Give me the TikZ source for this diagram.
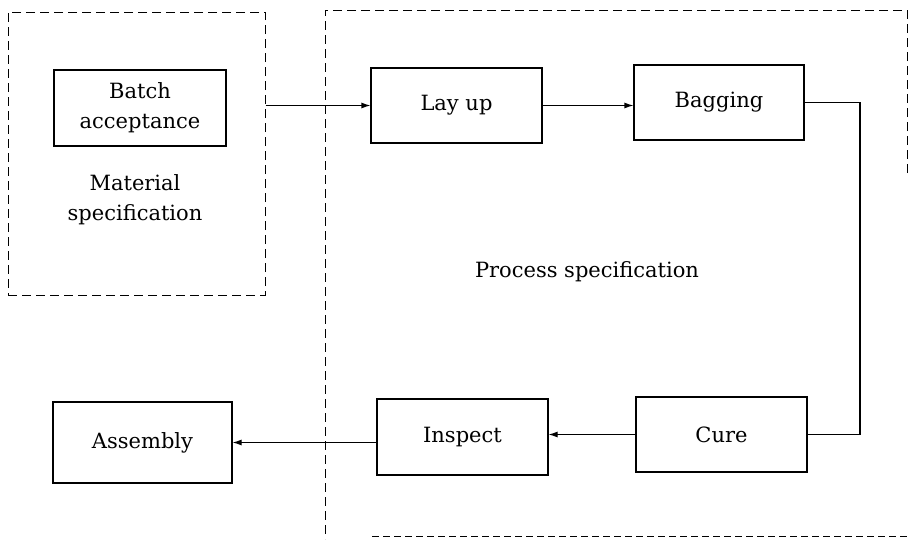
\documentclass[tikz,border=0pt]{standalone}
\usepackage{fontspec}
\setmainfont{DejaVu Serif}
\usetikzlibrary{arrows.meta}
\begin{document}
\begin{tikzpicture}[x=1pt,y=-1pt,
  stepbox/.style={draw,line width=1.1pt,inner sep=0pt,align=center,
    font=\fontsize{21}{30}\selectfont},
  lbl/.style={align=center,font=\fontsize{21}{30}\selectfont},
  region/.style={draw,line width=1pt,dash pattern=on 9pt off 5pt},
  flow/.style={line width=1.1pt,-{Latex[length=9pt,width=6pt]}},
  link/.style={line width=1.1pt}]
\useasboundingbox (0,0) rectangle (908,539);
% material specification region
\node[region,minimum width=257pt,minimum height=283pt] (matbox) at (136.5,153.5) {};
\node[lbl] (matlbl) at (135,200) {Material\\specification};
% process specification region (open outline)
\coordinate (pA) at (907,173);
\coordinate (pB) at (907,10);
\coordinate (pC) at (325,10);
\coordinate (pD) at (325,539);
\coordinate (pE) at (372,536);
\coordinate (pF) at (908,536);
\draw[region] (pA) -- (pB) -- (pC) -- (pD);
\draw[region,dash pattern=on 7pt off 4pt] (pE) -- (pF);
\node[lbl] (proclbl) at (587,272) {Process specification};
% steps
\node[stepbox,minimum width=172pt,minimum height=76pt] (batch) at (140,108) {Batch\\acceptance};
\node[stepbox,minimum width=171pt,minimum height=75pt] (layup) at (456.5,105.5) {Lay up};
\node[stepbox,minimum width=170pt,minimum height=75pt] (bagging) at (719,102.5) {Bagging};
\node[stepbox,minimum width=171pt,minimum height=75pt] (cure) at (721.5,434.5) {Cure};
\node[stepbox,minimum width=171pt,minimum height=76pt] (inspect) at (462.5,437) {Inspect};
\node[stepbox,minimum width=179pt,minimum height=81pt] (assembly) at (142.5,442.5) {Assembly};
% connectors
\draw[flow] (matbox.east |- layup.west) -- (layup.west);
\draw[flow] (layup.east) -- (layup.east -| bagging.west);
\coordinate (turn) at (860,0);
\draw[link] (bagging.east) -- (bagging.east -| turn) -- (cure.east -| turn) -- (cure.east);
\draw[flow] (cure.west) -- (cure.west -| inspect.east);
\draw[flow] (inspect.west |- assembly.east) -- (assembly.east);
\end{tikzpicture}
\end{document}
